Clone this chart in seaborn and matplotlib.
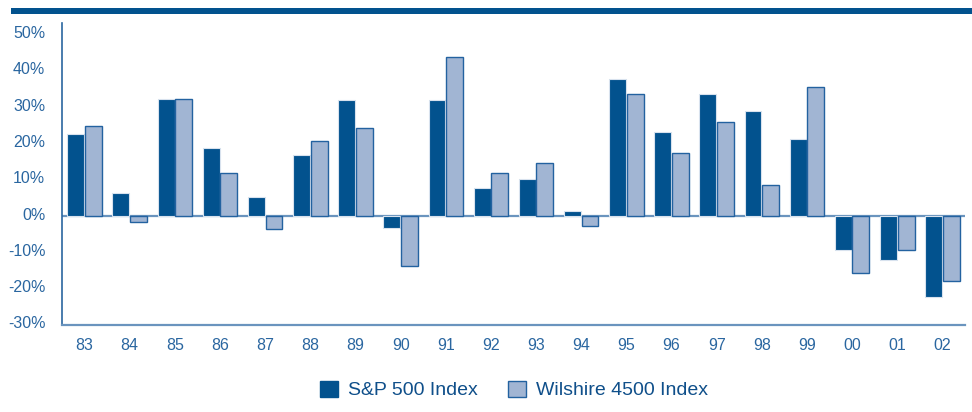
import matplotlib
matplotlib.use("Agg")
import matplotlib.pyplot as plt
import matplotlib.transforms as mtransforms
import seaborn as sns
import pandas as pd
from matplotlib.patches import Patch, Rectangle

years = ["83", "84", "85", "86", "87", "88", "89", "90", "91", "92",
         "93", "94", "95", "96", "97", "98", "99", "00", "01", "02"]
sp500 = [22.6, 6.3, 32.2, 18.8, 5.3, 16.8, 32.0, -3.2, 31.9, 7.8,
         10.3, 1.5, 37.8, 23.1, 33.6, 28.9, 21.3, -9.2, -12.0, -22.2]
wilshire = [24.9, -1.7, 32.2, 11.9, -3.6, 20.7, 24.2, -13.7, 43.7, 11.9,
            14.7, -2.8, 33.7, 17.3, 25.8, 8.7, 35.7, -15.8, -9.4, -17.9]
series = ["S&P 500 Index", "Wilshire 4500 Index"]
yticks = [-30, -20, -10, 0, 10, 20, 30, 40, 50]

dark = "#02528E"
light = "#A1B5D3"
txt = "#2A66A0"
axc = "#2A66A0"

df = pd.DataFrame({
    "year": years * 2,
    "value": sp500 + wilshire,
    "series": [series[0]] * len(years) + [series[1]] * len(years),
})

sns.set_theme(style="white")
plt.rcParams["font.family"] = ["Liberation Sans", "DejaVu Sans"]

fig = plt.figure(figsize=(9.72, 4.12), dpi=100)
ax = fig.add_axes([62 / 972, 1 - 325 / 412, (965 - 62) / 972, (325 - 23) / 412])

sns.barplot(data=df, x="year", y="value", hue="series", order=years,
            hue_order=series, palette=[dark, light], width=0.78, gap=0.04,
            ax=ax, legend=False, saturation=1)

for bar in ax.patches[:len(years)]:
    bar.set_edgecolor("#D8E2EE")
    bar.set_linewidth(0.8)
for bar in ax.patches[len(years):2 * len(years)]:
    bar.set_edgecolor("#2362A0")
    bar.set_linewidth(1.0)

ax.set_xlim(-0.5, len(years) - 0.5)
ax.set_ylim(-30, 53.2)
ax.set_yticks(yticks)
ax.set_yticklabels([f"{v}%" for v in yticks])
ax.axhline(0, color="#6A94BE", lw=1.6, zorder=0.5)

ax.set_xlabel("")
ax.set_ylabel("")
for s in ["top", "right"]:
    ax.spines[s].set_visible(False)
ax.spines["left"].set_color(axc)
ax.spines["left"].set_linewidth(1.2)
ax.spines["bottom"].set_color("#6A94BE")
ax.spines["bottom"].set_linewidth(1.6)
ax.tick_params(axis="both", length=0, labelsize=11.5, colors=txt)
ax.tick_params(axis="x", pad=9)
ax.tick_params(axis="y", pad=12)
offset = mtransforms.ScaledTranslation(0, 2.5 / 100, fig.dpi_scale_trans)
for lab in ax.get_yticklabels():
    lab.set_transform(lab.get_transform() + offset)
ax.grid(False)

# top thick rule
fig.add_artist(Rectangle((11 / 972, 1 - 13.5 / 412), (972 - 11) / 972, 5.5 / 412,
                         transform=fig.transFigure, facecolor="#02528E",
                         edgecolor="none"))

handles = [Patch(facecolor=dark, edgecolor=dark),
           Patch(facecolor=light, edgecolor="#2362A0")]
leg = fig.legend(handles, series, loc="center", bbox_to_anchor=(514 / 972, 1 - 390 / 412),
                 ncol=2, frameon=False, fontsize=14, handlelength=0.9,
                 handleheight=0.9, handletextpad=0.5, columnspacing=1.6)
for t in leg.get_texts():
    t.set_color("#0F4F8A")

fig.savefig("out.png", dpi=100)
